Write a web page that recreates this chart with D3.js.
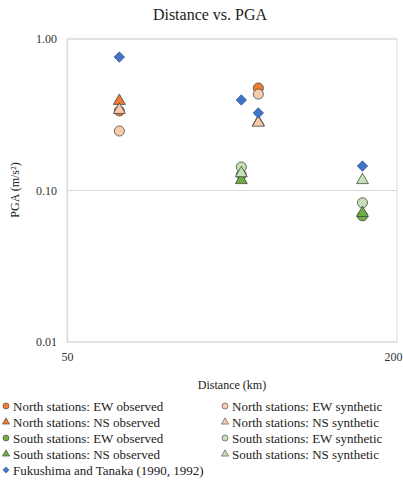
<!DOCTYPE html>
<html>
<head>
<meta charset="utf-8">
<script src="https://cdn.jsdelivr.net/npm/d3@7"></script>
<style>
  html, body { margin: 0; padding: 0; background: #fff; }
  svg text { font-family: "Liberation Serif", "Times New Roman", serif; }
</style>
</head>
<body>
<svg id="chart" width="403" height="481"></svg>
<script>
// Distance (km) and PGA (m/s²) for each series
const northEWObsDist = [62.3, 111.7];
const northEWObsPGA  = [0.335, 0.475];
const northEWSynDist = [62.3, 111.7];
const northEWSynPGA  = [0.247, 0.433];
const northNSObsDist = [62.3, 111.7];
const northNSObsPGA  = [0.39, 0.283];
const northNSSynDist = [62.3, 111.7];
const northNSSynPGA  = [0.34, 0.28];
const southEWObsDist = [104, 173];
const southEWObsPGA  = [0.127, 0.068];
const southEWSynDist = [104, 173];
const southEWSynPGA  = [0.143, 0.083];
const southNSObsDist = [104, 173];
const southNSObsPGA  = [0.117, 0.071];
const southNSSynDist = [104, 173];
const southNSSynPGA  = [0.130, 0.117];
const fukushimaDist  = [62.3, 104, 111.7, 173];
const fukushimaPGA   = [0.76, 0.396, 0.325, 0.145];

const yTicks = [0.01, 0.1, 1];
const xTicks = [50, 200];

const series = [
  { name: "North stations: EW observed", shape: "circle",   fill: "#ED7D31", dist: northEWObsDist, pga: northEWObsPGA },
  { name: "North stations: EW synthetic", shape: "circle",  fill: "#F8CBAD", dist: northEWSynDist, pga: northEWSynPGA },
  { name: "North stations: NS observed", shape: "triangle", fill: "#ED7D31", dist: northNSObsDist, pga: northNSObsPGA },
  { name: "North stations: NS synthetic", shape: "triangle",fill: "#F8CBAD", dist: northNSSynDist, pga: northNSSynPGA },
  { name: "South stations: EW observed", shape: "circle",   fill: "#70AD47", dist: southEWObsDist, pga: southEWObsPGA },
  { name: "South stations: EW synthetic", shape: "circle",  fill: "#C5E0B4", dist: southEWSynDist, pga: southEWSynPGA },
  { name: "South stations: NS observed", shape: "triangle", fill: "#70AD47", dist: southNSObsDist, pga: southNSObsPGA },
  { name: "South stations: NS synthetic", shape: "triangle",fill: "#C5E0B4", dist: southNSSynDist, pga: southNSSynPGA },
  { name: "Fukushima and Tanaka (1990, 1992)", shape: "diamond", fill: "#4472C4", dist: fukushimaDist, pga: fukushimaPGA }
];

const FONT = "'Liberation Serif', 'Times New Roman', serif";
const svg = d3.select("#chart");
const plot = { left: 67, right: 397, top: 39, bottom: 342 };

const x = d3.scaleLog().domain([50, 200]).range([plot.left, plot.right]);
const y = d3.scaleLog().domain([0.01, 1]).range([plot.bottom, plot.top]);

// Title
svg.append("text")
  .attr("x", 210).attr("y", 20)
  .attr("text-anchor", "middle")
  .style("font-family", FONT).style("font-size", "16px").attr("fill", "#222")
  .text("Distance vs. PGA");

// Horizontal gridlines
svg.append("g")
  .selectAll("line")
  .data(yTicks)
  .join("line")
  .attr("x1", plot.left).attr("x2", plot.right)
  .attr("y1", d => y(d)).attr("y2", d => y(d))
  .attr("stroke", "#d9d9d9").attr("stroke-width", 1);

// Plot frame
svg.append("rect")
  .attr("x", plot.left).attr("y", plot.top)
  .attr("width", plot.right - plot.left).attr("height", plot.bottom - plot.top)
  .attr("fill", "none").attr("stroke", "#d9d9d9");

// Y axis
const yAxis = d3.axisLeft(y).tickValues(yTicks).tickFormat(d3.format(".2f")).tickSize(0).tickPadding(10);
const gy = svg.append("g").attr("transform", `translate(${plot.left},0)`).call(yAxis);
gy.attr("font-family", null).attr("font-size", null);
gy.select(".domain").attr("stroke", "#d9d9d9");
gy.selectAll("text").style("font-family", FONT).style("font-size", "12px").attr("fill", "#333");

// X axis
const xAxis = d3.axisBottom(x).tickValues(xTicks).tickFormat(d3.format("d")).tickSize(0).tickPadding(10);
const gx = svg.append("g").attr("transform", `translate(0,${plot.bottom})`).call(xAxis);
gx.attr("font-family", null).attr("font-size", null);
gx.select(".domain").remove();
gx.selectAll("text").style("font-family", FONT).style("font-size", "12px").attr("fill", "#333");
// keep the last tick label inside the canvas
gx.selectAll(".tick").filter(d => d === 200).select("text")
  .attr("text-anchor", "end").attr("x", 402 - plot.right);

// Axis titles
svg.append("text")
  .attr("x", 232).attr("y", 389)
  .attr("text-anchor", "middle")
  .style("font-family", FONT).style("font-size", "12px").attr("fill", "#222")
  .text("Distance (km)");
svg.append("text")
  .attr("transform", "translate(19,190) rotate(-90)")
  .attr("text-anchor", "middle")
  .style("font-family", FONT).style("font-size", "12px").attr("fill", "#222")
  .text("PGA (m/s²)");

// Marker shapes (diamond = square turned 45°)
function markerPath(shape, scale) {
  if (shape === "circle") return d3.symbol().type(d3.symbolCircle).size(80 * scale)();
  if (shape === "triangle") return d3.symbol().type(d3.symbolTriangle).size(62 * scale)();
  const r = 5.2 * Math.sqrt(scale);
  return `M0,${-r}L${r},0L0,${r}L${-r},0Z`;
}
const strokeFor = s => s.shape === "diamond" ? "#2F5597" : "#404040";

// Data points
const marks = svg.append("g");
series.forEach(s => {
  marks.append("g")
    .selectAll("path")
    .data(s.dist.map((d, i) => ({ d, v: s.pga[i] })))
    .join("path")
    .attr("transform", p => `translate(${x(p.d)},${y(p.v)})`)
    .attr("d", markerPath(s.shape, 1))
    .attr("fill", s.fill)
    .attr("stroke", strokeFor(s))
    .attr("stroke-width", 0.75);
});

// Legend: left column observed + Fukushima, right column synthetic
const leftCol = [series[0], series[2], series[4], series[6], series[8]];
const rightCol = [series[1], series[3], series[5], series[7]];
const rowY = i => 406 + i * 16;

function drawColumn(items, x0) {
  const g = svg.append("g");
  items.forEach((s, i) => {
    g.append("path")
      .attr("transform", `translate(${x0},${rowY(i)})`)
      .attr("d", markerPath(s.shape, 0.36))
      .attr("fill", s.fill)
      .attr("stroke", strokeFor(s)).attr("stroke-width", 0.6);
    g.append("text")
      .attr("x", x0 + 7).attr("y", rowY(i) + 4.5)
      .style("font-family", FONT).style("font-size", "13px").attr("fill", "#222")
      .text(s.name);
  });
}
drawColumn(leftCol, 6);
drawColumn(rightCol, 225);
</script>
</body>
</html>
